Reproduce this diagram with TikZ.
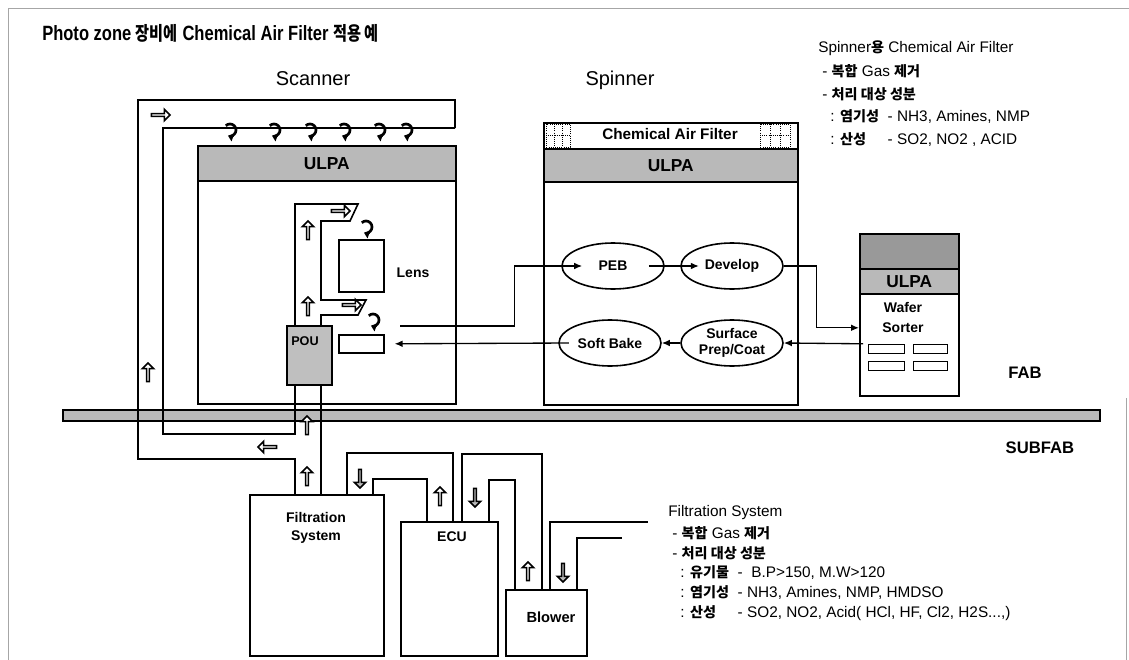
\documentclass[tikz,border=0pt]{standalone}
\usepackage{fontspec}
\usepackage{graphicx}
\setmainfont{Liberation Sans}
\newfontfamily\kr{Noto Sans CJK KR}[Scale=0.92]
\usetikzlibrary{shapes.geometric,shapes.arrows,arrows.meta}
\newcommand\K[1]{{\kr\bfseries #1}}
\begin{document}
\begin{tikzpicture}[x=0.75pt,y=-0.75pt,
  ln/.style={line width=1.2pt},
  box/.style={draw,line width=1.2pt,inner sep=0pt,anchor=north west},
  ulpa/.style={box,fill=gray!55},
  lab/.style={font=\fontsize{10.5}{14}\selectfont\bfseries,inner sep=0pt,align=center},
  big/.style={font=\fontsize{13}{15}\selectfont\bfseries,inner sep=0pt},
  txt/.style={font=\fontsize{11.5}{13}\selectfont,anchor=west,inner sep=0pt},
  proc/.style={ellipse,draw,line width=1.2pt,minimum width=76.5pt,minimum height=34.5pt,inner sep=0pt,font=\fontsize{10.5}{12.5}\selectfont\bfseries,align=center},
  conn/.style={line width=1pt},
  tip/.style={-{Latex[length=6pt,width=5pt]}},
  blk/.style={single arrow,draw,line width=1.2pt,fill=white,minimum height=14pt,minimum width=8.5pt,single arrow head extend=2pt,inner sep=0pt},
  uparr/.style={blk,shape border rotate=90},
  dnarr/.style={blk,fill=gray!55,shape border rotate=270},
  rtarr/.style={blk,shape border rotate=0},
  ltarr/.style={blk,shape border rotate=180},
  sw/.style={line width=2pt,-{Triangle[length=4pt,width=6pt]}},
  swirl/.pic={\draw[sw] (225:6) arc[start angle=225,end angle=470,radius=6];},
  grd/.style={densely dotted,line width=0.6pt}
]
\useasboundingbox (0,0) rectangle (1129,660);
% frame
\draw[gray!70,line width=0.6pt] (8,660) -- (8,8) -- (1129,8);
\draw[gray!70,line width=0.6pt] (1126,398) -- (1126,660);

% title and headings
\node[anchor=west,inner sep=0pt] (title) at (42,33) {\scalebox{0.8}[1]{\fontsize{15.5}{18}\selectfont\bfseries Photo zone \K{장비에} Chemical Air Filter \K{적용 예}}};
\node[font=\fontsize{15}{18}\selectfont,inner sep=0pt] (scanlbl) at (313,79) {Scanner};
\node[font=\fontsize{15}{18}\selectfont,inner sep=0pt] (spinlbl) at (620,80) {Spinner};

% floor
\node[draw,line width=1.2pt,fill=gray!55,anchor=north west,minimum width=777.75pt,minimum height=8.25pt,inner sep=0pt] (floor) at (62,409) {};
\node[font=\fontsize{12.5}{15}\selectfont\bfseries,inner sep=0pt] (fab) at (1025,373) {FAB};
\node[font=\fontsize{12.5}{15}\selectfont\bfseries,inner sep=0pt] (subfab) at (1040,448) {SUBFAB};

% scanner
\node[box,minimum width=193.5pt,minimum height=193.5pt] (scan) at (197,145) {};
\node[ulpa,minimum width=193.5pt,minimum height=26.25pt] (sulpa) at (197,145) {};
\node[big] (sulpat) at (sulpa) {ULPA};
\draw[ln] (455,128) -- (455,100) -- (138,100) -- (138,459) -- (295,459) -- (295,494);
\draw[ln] (455,128) -- (163,128) -- (163,434) -- (295,434) -- (295,204) -- (358,204) -- (350,221) -- (321,221) -- (321,300) -- (366,300) -- (358,315) -- (321,315) -- (321,494);
\foreach \xx in {230,274,310,344,379,406} { \pic at (\xx,130) {swirl}; }
\pic at (366,227) {swirl};
\pic at (373,320) {swirl};
\node[box,minimum width=33.75pt,minimum height=39pt] (lens) at (338,239) {};
\node[lab] (lenst) at (413,273) {Lens};
\node[box,minimum width=33.75pt,minimum height=13.5pt] (sbox) at (338,334) {};
\node[box,fill=gray!50,minimum width=33.75pt,minimum height=44.25pt] (pou) at (286,325) {};
\node[lab,font=\fontsize{9.5}{11}\selectfont\bfseries] (pout) at (305,341) {POU};
\node[rtarr] (a1) at (160,115) {};
\node[uparr] (a2) at (148,373) {};
\node[uparr] (a3) at (308,231) {};
\node[uparr] (a4) at (308,307) {};
\node[rtarr] (a5) at (340,211) {};
\node[rtarr] (a6) at (351,305) {};

% spinner
\node[box,minimum width=190.5pt,minimum height=211.5pt] (spin) at (543,122) {};
\node[box,minimum width=190.5pt,minimum height=19.5pt] (caf) at (543,122) {};
\node[ulpa,minimum width=190.5pt,minimum height=24.75pt] (pulpa) at (543,148) {};
\node[big] (pulpat) at (pulpa) {ULPA};
\node[font=\fontsize{11.5}{13}\selectfont\bfseries,inner sep=0pt] (caft) at (670,134) {Chemical Air Filter};
\draw[grd] (546,124) rectangle (570,147) (554,124) -- (554,147) (562,124) -- (562,147) (546,135) -- (570,135);
\draw[grd] (760,124) rectangle (790,147) (770,124) -- (770,147) (780,124) -- (780,147) (760,135) -- (790,135);
\node[proc] (peb) at (613,266) {PEB};
\node[proc] (dev) at (732,266) {Develop};
\node[proc] (soft) at (610,343) {Soft Bake};
\node[proc] (surf) at (732,343) {Surface\\Prep/Coat};

% wafer sorter
\node[box,minimum width=74.25pt,minimum height=121.5pt] (wafer) at (859,233) {};
\node[box,fill=gray!80,minimum width=74.25pt,minimum height=26.25pt] (wdark) at (859,233) {};
\node[ulpa,minimum width=74.25pt,minimum height=18.75pt] (wulpa) at (859,268) {};
\node[big] (wulpat) at (wulpa) {ULPA};
\node[lab,font=\fontsize{10.5}{15}\selectfont\bfseries] (wtxt) at (903,317) {Wafer\\Sorter};
\node[box,line width=0.9pt,minimum width=27pt,minimum height=6.75pt] (r1) at (868,344) {};
\node[box,line width=0.9pt,minimum width=25.5pt,minimum height=6.75pt] (r2) at (913,344) {};
\node[box,line width=0.9pt,minimum width=27pt,minimum height=6.75pt] (r3) at (868,361) {};
\node[box,line width=0.9pt,minimum width=25.5pt,minimum height=6.75pt] (r4) at (913,361) {};

% connectors
\coordinate (s1) at (400,326);
\draw[conn,tip] (s1) -| ([xshift=-35.25pt]peb.west) -- ([xshift=15.75pt]peb.west);
\draw[conn,tip] ([xshift=-12pt]peb.east) -- ([xshift=14pt]dev.west);
\draw[conn,tip] (dev.east) -- ++(33,0) |- ([yshift=-9.75pt]wafer.west);
\draw[conn,tip] ([yshift=-21.75pt,xshift=3pt]wafer.west) -- (surf.east);
\draw[conn,tip] (surf.west) -- (soft.east);
\draw[conn,tip] ([xshift=8pt]soft.west) -- ([xshift=7.5pt]sbox.east);

% subfab
\draw[ln] (347,494) -- (347,453) -- (453,453) -- (453,521);
\draw[ln] (373,494) -- (373,479) -- (427,479) -- (427,521);
\draw[ln] (462,521) -- (462,454) -- (542,454) -- (542,589);
\draw[ln] (489,521) -- (489,480) -- (515,480) -- (515,589);
\draw[ln] (550,589) -- (550,522) -- (648,522);
\draw[ln] (577,589) -- (577,538) -- (622,538);
\node[box,minimum width=100.5pt,minimum height=120.75pt] (filt) at (249,494) {};
\node[lab] (filtt) at (316,528) {Filtration\\System};
\node[box,minimum width=72.75pt,minimum height=100.5pt] (ecu) at (400,521) {};
\node[lab] (ecut) at (452,537) {ECU};
\node[box,minimum width=60.75pt,minimum height=49.5pt] (blower) at (505,589) {};
\node[lab,font=\fontsize{11}{13}\selectfont\bfseries] (blowert) at (551,617) {Blower};
\node[uparr] (b1) at (307,426) {};
\node[ltarr] (b2) at (268,447) {};
\node[uparr] (b3) at (307,477) {};
\node[dnarr] (b4) at (360,478) {};
\node[uparr] (b5) at (440,497) {};
\node[dnarr] (b6) at (475,497) {};
\node[uparr] (b7) at (528,572) {};
\node[dnarr] (b8) at (563,572) {};

% top-right notes
\node[txt] (n1) at (818,48) {Spinner\K{용} Chemical Air Filter};
\node[txt] (n2) at (822,71) {- \K{복합} Gas \K{제거}};
\node[txt] (n3) at (822,94) {- \K{처리 대상 성분}};
\node[txt] (n4) at (830,117) {: \makebox[3.1em][l]{\K{염기성}}- NH3, Amines, NMP};
\node[txt] (n5) at (830,140) {: \makebox[3.1em][l]{\K{산성}}- SO2, NO2 , ACID};

% bottom notes
\node[txt] (m1) at (668,513) {Filtration System};
\node[txt] (m2) at (672,533) {- \K{복합} Gas \K{제거}};
\node[txt] (m3) at (672,553) {- \K{처리 대상 성분}};
\node[txt] (m4) at (680,573) {: \makebox[3.1em][l]{\K{유기물}}-\ \ B.P>150, M.W>120};
\node[txt] (m5) at (680,593) {: \makebox[3.1em][l]{\K{염기성}}- NH3, Amines, NMP, HMDSO};
\node[txt] (m6) at (680,613) {: \makebox[3.1em][l]{\K{산성}}- SO2, NO2, Acid( HCl, HF, Cl2, H2S...,)};
\end{tikzpicture}
\end{document}
